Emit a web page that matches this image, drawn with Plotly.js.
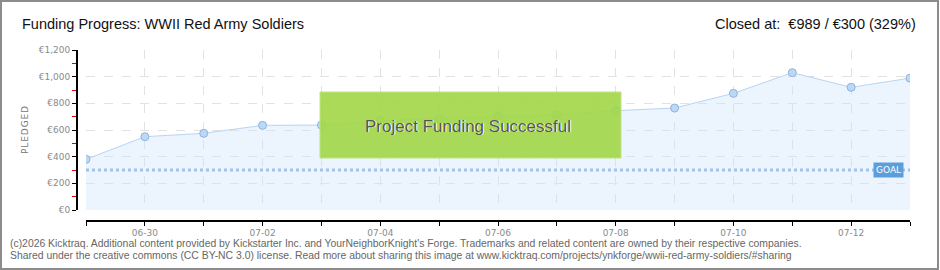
<!DOCTYPE html>
<html>
<head>
<meta charset="utf-8">
<script src="https://cdn.plot.ly/plotly-3.0.1.min.js"></script>
<style>
html,body{margin:0;padding:0;background:#fff;}
#wrap{position:relative;width:940px;height:270px;}
#chart{width:940px;height:270px;}
#frame{position:absolute;left:0;top:0;width:935px;height:266px;border:2px solid #8c8c8c;pointer-events:none;}
</style>
</head>
<body>
<div id="wrap"><div id="chart"></div><div id="frame"></div></div>
<script>
// ---- data ----
const dates = ['2017-06-29','2017-06-30','2017-07-01','2017-07-02','2017-07-03','2017-07-04','2017-07-05',
  '2017-07-06','2017-07-07','2017-07-08','2017-07-09','2017-07-10','2017-07-11','2017-07-12','2017-07-13'];
const pledged = [380, 550, 575, 635, 637, 670, 685, 700, 715, 745, 765, 875, 1030, 920, 989];
const goal = 300;
const goalDates = ['2017-06-29','2017-07-13'];
const goalValues = [goal, goal];
const titleText = 'Funding Progress: WWII Red Army Soldiers';
const closedText = 'Closed at:  €989 / €300 (329%)';
const yTitle = 'P\u200AL\u200AE\u200AD\u200AG\u200AE\u200AD';
const bannerText = 'Project Funding Successful';
const goalLabel = 'GOAL';
const footer1 = "(c)2026 Kicktraq. Additional content provided by Kickstarter Inc. and YourNeighborKnight's Forge. Trademarks and related content are owned by their respective companies.";
const footer2 = "Shared under the creative commons (CC BY-NC 3.0) license. Read more about sharing this image at www.kicktraq.com/projects/ynkforge/wwii-red-army-soldiers/#sharing";

// ---- geometry helpers (pixels -> paper) ----
const ML = 76, MR = 30, MT = 50, MB = 50, W = 940, H = 270;
const PW = W - ML - MR, PH = H - MT - MB;
const px = x => (x - ML) / PW;
const py = y => (H - MB - y) / PH;

const sans = '"Liberation Sans", Arial, sans-serif';
const tickFont = {family: 'DejaVu Sans, sans-serif', size: 9, color: '#8a8a8a'};
const grid = '#e2e2e2';

const traces = [
  {
    x: dates, y: pledged, type: 'scatter', mode: 'lines+markers',
    fill: 'tozeroy', fillcolor: 'rgba(205,226,250,0.38)',
    line: {color: '#b7d5f4', width: 1},
    marker: {size: 8, color: '#bcd8f6', line: {color: '#8fb3dc', width: 1}},
    hoverinfo: 'skip'
  },
  {
    x: goalDates, y: goalValues, type: 'scatter', mode: 'lines',
    line: {color: '#9fc4ec', width: 3, dash: 'dot'},
    hoverinfo: 'skip'
  }
];

const layout = {
  width: W, height: H,
  margin: {l: ML, r: MR, t: MT, b: MB},
  paper_bgcolor: '#fff', plot_bgcolor: 'rgba(0,0,0,0)',
  showlegend: false,
  xaxis: {
    type: 'date', range: ['2017-06-29', '2017-07-13'],
    domain: [10 / PW, 1], anchor: 'free', position: 0,
    tick0: '2017-06-30', dtick: 2 * 86400000, tickformat: '%m-%d',
    ticks: 'outside', ticklen: 4, tickcolor: '#000', tickwidth: 1,
    showline: true, linecolor: '#000', linewidth: 1.5,
    showgrid: true, gridcolor: grid, griddash: 'dash',
    minor: {dtick: 86400000, tick0: '2017-06-29', ticks: 'outside', ticklen: 4, tickcolor: '#000',
            showgrid: true, gridcolor: grid, griddash: 'dash'},
    tickfont: tickFont, zeroline: false, fixedrange: true
  },
  yaxis: {
    range: [0, 1200], domain: [10 / PH, 1], anchor: 'free', position: 0,
    dtick: 200, tickprefix: '€', separatethousands: true, tickformat: ',d',
    ticks: 'outside', ticklen: 4, tickcolor: '#000', tickwidth: 1,
    showline: true, linecolor: '#000', linewidth: 1.5,
    showgrid: true, gridcolor: grid, griddash: 'dash',
    minor: {dtick: 100, ticks: 'outside', ticklen: 4, tickcolor: '#e00000', showgrid: false},
    tickfont: tickFont, zeroline: false, fixedrange: true
  },
  shapes: [
    {type: 'rect', xref: 'paper', yref: 'paper',
     x0: px(320), x1: px(621), y0: py(158), y1: py(92),
     fillcolor: '#a4d84c', opacity: 0.93, line: {color: '#bde378', width: 1}, layer: 'above'}
  ],
  annotations: [
    {xref: 'paper', yref: 'paper', x: px(20), y: py(24), xanchor: 'left', yanchor: 'middle',
     text: titleText, showarrow: false, font: {family: sans, size: 14.5, color: '#111'}},
    {xref: 'paper', yref: 'paper', x: px(918), y: py(24), xanchor: 'right', yanchor: 'middle',
     text: closedText, showarrow: false, font: {family: sans, size: 14.5, color: '#111'}},
    {xref: 'paper', yref: 'paper', x: px(25), y: py(130), xanchor: 'center', yanchor: 'middle',
     text: yTitle, textangle: -90, showarrow: false, font: {family: 'DejaVu Sans, sans-serif', size: 9, color: '#777'}},
    {xref: 'paper', yref: 'paper', x: px(469), y: py(127), xanchor: 'center', yanchor: 'middle',
     text: bannerText, showarrow: false, font: {family: sans, size: 17, color: '#ffffff'}},
    {xref: 'paper', yref: 'paper', x: px(468), y: py(126), xanchor: 'center', yanchor: 'middle',
     text: bannerText, showarrow: false, font: {family: sans, size: 17, color: '#555'}},
    {xref: 'paper', yref: 'y', x: px(888), y: goal, xanchor: 'center', yanchor: 'middle',
     text: goalLabel, showarrow: false, bgcolor: '#5c9ddc', borderpad: 2,
     font: {family: 'DejaVu Sans, sans-serif', size: 9, color: '#fff'}},
    {xref: 'paper', yref: 'paper', x: px(8), y: py(243), xanchor: 'left', yanchor: 'middle',
     text: footer1, showarrow: false, font: {family: sans, size: 10.4, color: '#666'}},
    {xref: 'paper', yref: 'paper', x: px(8), y: py(256), xanchor: 'left', yanchor: 'middle',
     text: footer2, showarrow: false, font: {family: sans, size: 10.4, color: '#666'}}
  ]
};

Plotly.newPlot('chart', traces, layout, {staticPlot: true, displayModeBar: false});
</script>
</body>
</html>
